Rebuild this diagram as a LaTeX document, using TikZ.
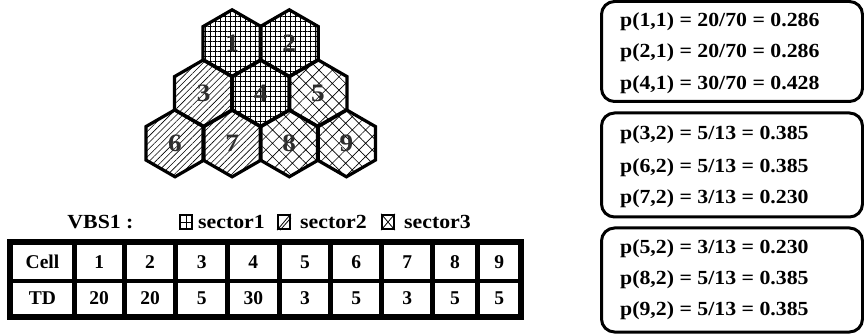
\documentclass[tikz,border=0pt]{standalone}
\usepackage{fontspec}
\setmainfont{Liberation Serif}
\newfontfamily\widefont{Liberation Serif}[FakeStretch=1.09]
\usetikzlibrary{shapes.geometric,patterns.meta}
\begin{document}
\begin{tikzpicture}[x=1pt,y=-1pt,
  hexcell/.style={regular polygon, regular polygon sides=6, shape border rotate=30,
    minimum size=67pt, inner sep=0pt, draw, line width=3.2pt,
    text=black!82, font=\widefont\bfseries\fontsize{25}{29}\selectfont},
  secone/.style={pattern={Hatch[angle=0,distance=5pt,line width=0.45pt]}},
  sectwo/.style={pattern={Lines[angle=45,distance=4.5pt,line width=0.6pt]}},
  secthree/.style={pattern={Hatch[angle=45,distance=9.4pt,line width=0.65pt]}},
  tcell/.style={fill=white, inner sep=0pt, font=\bfseries\fontsize{19.5}{23}\selectfont},
  pbox/.style={draw, line width=3pt, rounded corners=13pt, minimum width=261pt, inner sep=0pt},
  ptext/.style={anchor=west, inner sep=0pt, font=\widefont\bfseries\fontsize{20}{24}\selectfont},
  legtext/.style={anchor=west, inner sep=0pt, font=\widefont\bfseries\fontsize{20}{24}\selectfont},
  legbox/.style={draw, line width=2.4pt, minimum width=11.5pt, minimum height=14pt, inner sep=0pt},
  legline/.style={line width=0.8pt}
]
\useasboundingbox (0,0) rectangle (864,336);

% hexagons
\node[hexcell, secone]   (h1) at (232.1,43.3) {1};
\node[hexcell, secone]   (h2) at (289.3,43.3) {2};
\node[hexcell, sectwo]   (h3) at (203.6,93.3) {3};
\node[hexcell, secone]   (h4) at (260.7,93.3) {4};
\node[hexcell, secthree] (h5) at (317.9,93.3) {5};
\node[hexcell, sectwo]   (h6) at (175.0,143.3) {6};
\node[hexcell, sectwo]   (h7) at (232.1,143.3) {7};
\node[hexcell, secthree] (h8) at (289.3,143.3) {8};
\node[hexcell, secthree] (h9) at (346.4,143.3) {9};

% legend
\node[font=\widefont\bfseries\fontsize{20}{24}\selectfont, inner sep=0pt] (vbs) at (100.5,222) {VBS1 :};
\node[legbox] (l1) at (186,222) {};
\draw[legline] (l1.north) -- (l1.south) (l1.west) -- (l1.east);
\node[legtext] (s1) at (198,222) {sector1};
\node[legbox] (l2) at (284,222) {};
\draw[legline] (l2.south west) -- (l2.north east);
\draw[legline] ([xshift=3pt]l2.south west) -- ([yshift=-4pt]l2.north east);
\node[legtext] (s2) at (300,222) {sector2};
\node[legbox] (l3) at (388,222) {};
\draw[legline] (l3.south west) -- (l3.north east) (l3.north west) -- (l3.south east);
\node[legtext] (s3) at (404,222) {sector3};

% table
\fill (7.3,239.3) rectangle (524,320);
\foreach \i/\cx/\w/\a/\b in {0/42.5/58.4/Cell/TD, 1/99.2/45/1/20, 2/150/46.6/2/20,
   3/201.7/46.7/3/5, 4/253.3/46.7/4/30, 5/305/46.6/5/3, 6/356.3/46/6/5,
   7/407.2/45.7/7/3, 8/455/40/8/5, 9/499.2/38.3/9/5} {
  \node[tcell, minimum width=\w pt, minimum height=33.4pt] (c\i) at (\cx,262) {\a};
  \node[tcell, minimum width=\w pt, minimum height=31pt] (t\i) at (\cx,298.2) {\b};
}

% probability boxes
\node[pbox, minimum height=100pt] (b1) at (732,51.5) {};
\node[pbox, minimum height=104pt] (b2) at (732,165) {};
\node[pbox, minimum height=104pt] (b3) at (732,280) {};
\node[ptext] (p11) at (620,22)    {p(1,1) = 20/70 = 0.286};
\node[ptext] (p21) at (620,53)    {p(2,1) = 20/70 = 0.286};
\node[ptext] (p41) at (620,84.7)  {p(4,1) = 30/70 = 0.428};
\node[ptext] (p32) at (620,135)   {p(3,2) = 5/13 = 0.385};
\node[ptext] (p62) at (620,167.7) {p(6,2) = 5/13 = 0.385};
\node[ptext] (p72) at (620,198.4) {p(7,2) = 3/13 = 0.230};
\node[ptext] (p52) at (620,248.4) {p(5,2) = 3/13 = 0.230};
\node[ptext] (p82) at (620,280)   {p(8,2) = 5/13 = 0.385};
\node[ptext] (p92) at (620,311)   {p(9,2) = 5/13 = 0.385};
\end{tikzpicture}
\end{document}
